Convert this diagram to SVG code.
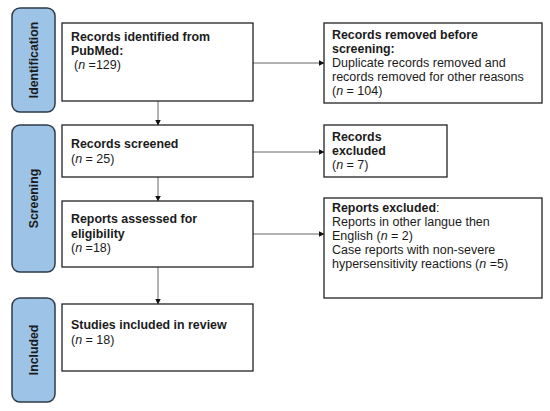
<svg xmlns="http://www.w3.org/2000/svg" width="550" height="411" viewBox="0 0 550 411">
<defs>
<marker id="ah" markerWidth="6" markerHeight="6" refX="5.5" refY="3" orient="auto" markerUnits="userSpaceOnUse">
<path d="M0,0 L6,3 L0,6 Z" fill="#111"/>
</marker>
<style>
.pill{fill:#9dc3e6;stroke:#2f3b48;stroke-width:1.5}
.box{fill:#fff;stroke:#222;stroke-width:1.3}
.pl{font-family:"Liberation Sans",Arial,sans-serif;font-size:12.3px;font-weight:bold;fill:#1b1b1b;text-anchor:middle}
.t{font-family:"Liberation Sans",Arial,sans-serif;font-size:12.5px;fill:#1b1b1b}
.b{font-weight:bold;font-size:12.4px}
.c{stroke:#666;stroke-width:1;fill:none;marker-end:url(#ah)}
</style>
</defs>
<rect width="550" height="411" fill="#fff"/>
<g id="phase-identification">
<rect class="pill" x="12" y="8" width="43" height="104" rx="8"/>
<text class="pl" transform="translate(38,60) rotate(-90)">Identification</text>
</g>
<g id="phase-screening">
<rect class="pill" x="12" y="125" width="43" height="147" rx="8"/>
<text class="pl" transform="translate(38,198.5) rotate(-90)">Screening</text>
</g>
<g id="phase-included">
<rect class="pill" x="12" y="298" width="43" height="104" rx="8"/>
<text class="pl" transform="translate(38,350) rotate(-90)">Included</text>
</g>
<g id="connectors">
<path class="c" d="M253,63 H324"/>
<path class="c" d="M158,101 V125"/>
<path class="c" d="M253,152 H324"/>
<path class="c" d="M158,177 V201"/>
<path class="c" d="M253,234 H324"/>
<path class="c" d="M158,267 V304"/>
</g>
<g id="n-identified">
<rect class="box" x="62" y="23" width="191" height="78"/>
<text class="t b" x="71" y="41">Records identified from</text>
<text class="t b" x="71" y="55">PubMed:</text>
<text class="t" x="74" y="69">(<tspan font-style="italic">n</tspan> =129)</text>
</g>
<g id="n-removed">
<rect class="box" x="324" y="23" width="218" height="80"/>
<text class="t b" x="332" y="39">Records removed before</text>
<text class="t b" x="332" y="53">screening:</text>
<text class="t" x="332" y="67">Duplicate records removed and</text>
<text class="t" x="332" y="81">records removed for other reasons</text>
<text class="t" x="332" y="95">(<tspan font-style="italic">n</tspan> = 104)</text>
</g>
<g id="n-screened">
<rect class="box" x="62" y="125" width="191" height="52"/>
<text class="t b" x="71" y="148">Records screened</text>
<text class="t" x="71" y="163">(<tspan font-style="italic">n</tspan> = 25)</text>
</g>
<g id="n-excluded">
<rect class="box" x="324" y="125" width="123" height="52"/>
<text class="t b" x="332" y="141">Records</text>
<text class="t b" x="332" y="155">excluded</text>
<text class="t" x="332" y="169">(<tspan font-style="italic">n</tspan> = 7)</text>
</g>
<g id="n-assessed">
<rect class="box" x="62" y="201" width="191" height="66"/>
<text class="t b" x="71" y="223">Reports assessed for</text>
<text class="t b" x="71" y="238">eligibility</text>
<text class="t" x="71" y="252">(<tspan font-style="italic">n</tspan> =18)</text>
</g>
<g id="n-reports-excluded">
<rect class="box" x="324" y="198" width="218" height="100"/>
<text class="t" x="332" y="212"><tspan class="b">Reports excluded</tspan>:</text>
<text class="t" x="332" y="226">Reports in other langue then</text>
<text class="t" x="332" y="240">English (<tspan font-style="italic">n</tspan> = 2)</text>
<text class="t" x="332" y="254">Case reports with non-severe</text>
<text class="t" x="332" y="268">hypersensitivity reactions (<tspan font-style="italic">n</tspan> =5)</text>
</g>
<g id="n-included">
<rect class="box" x="62" y="304" width="191" height="67"/>
<text class="t b" x="71" y="329">Studies included in review</text>
<text class="t" x="71" y="344">(<tspan font-style="italic">n</tspan> = 18)</text>
</g>
</svg>
